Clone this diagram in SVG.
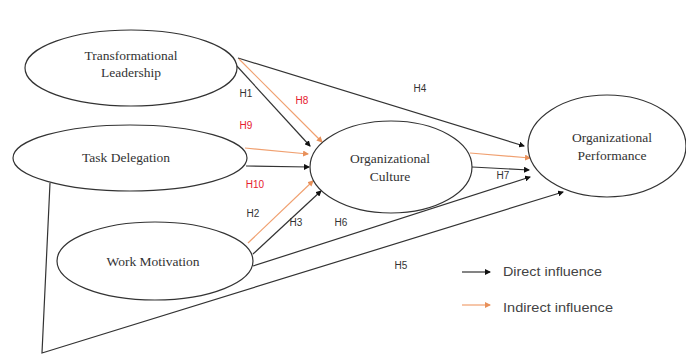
<svg xmlns="http://www.w3.org/2000/svg" width="686" height="355" viewBox="0 0 686 355">
<defs>
<marker id="ab" markerWidth="6" markerHeight="6" refX="5" refY="3" orient="auto" markerUnits="userSpaceOnUse"><path d="M0,0 L6,3 L0,6 Z" fill="#111"/></marker>
<marker id="ao" markerWidth="6" markerHeight="6" refX="5" refY="3" orient="auto" markerUnits="userSpaceOnUse"><path d="M0,0 L6,3 L0,6 Z" fill="#e8905a"/></marker>
</defs>
<style>
.node ellipse{fill:#fff;stroke:#333;stroke-width:1.2}
.nt{font-family:"Liberation Serif",serif;font-size:13.5px;fill:#333;text-anchor:middle}
.d{stroke:#333;stroke-width:1.2;fill:none}
.da{stroke:#333;stroke-width:1.2;fill:none;marker-end:url(#ab)}
.ia{stroke:#f0a070;stroke-width:1.2;fill:none;marker-end:url(#ao)}
.lb{font-family:"Liberation Sans",sans-serif;font-size:10px;fill:#333;text-anchor:middle}
.lr{font-family:"Liberation Sans",sans-serif;font-size:10px;fill:#e5202e;text-anchor:middle}
.lg{font-family:"Liberation Sans",sans-serif;font-size:12px;fill:#444}
</style>
<rect width="686" height="355" fill="#fff"/>
<g id="connectors">
<line class="da" x1="238" y1="58" x2="524" y2="146"/>
<line class="da" x1="235" y1="64" x2="310" y2="146"/>
<line class="ia" x1="239" y1="59" x2="322" y2="142"/>
<line class="ia" x1="245" y1="148" x2="308" y2="154"/>
<line class="da" x1="246" y1="166" x2="309" y2="167"/>
<line class="ia" x1="248" y1="243" x2="313" y2="181"/>
<line class="da" x1="253" y1="254" x2="321" y2="191"/>
<line class="da" x1="253" y1="266" x2="530" y2="177"/>
<polyline class="da" points="50,183 42,353 563,192"/>
<line class="ia" x1="470" y1="153" x2="530" y2="158"/>
<line class="da" x1="472" y1="167" x2="529" y2="170"/>
<text class="lb" x="246" y="97">H1</text>
<text class="lr" x="302" y="104">H8</text>
<text class="lr" x="246" y="129">H9</text>
<text class="lb" x="420" y="92">H4</text>
<text class="lr" x="255" y="188">H10</text>
<text class="lb" x="253" y="217">H2</text>
<text class="lb" x="296" y="226">H3</text>
<text class="lb" x="341" y="226">H6</text>
<text class="lb" x="503" y="179">H7</text>
<text class="lb" x="401" y="269">H5</text>
</g>
<g id="tl" class="node"><ellipse cx="131" cy="68" rx="106" ry="38"/><text class="nt" x="131" y="60">Transformational</text><text class="nt" x="131" y="77">Leadership</text></g>
<g id="td" class="node"><ellipse cx="130" cy="158" rx="117" ry="33"/><text class="nt" x="126" y="162">Task Delegation</text></g>
<g id="wm" class="node"><ellipse cx="155" cy="261" rx="98" ry="39"/><text class="nt" x="153" y="266">Work Motivation</text></g>
<g id="oc" class="node"><ellipse cx="391" cy="167" rx="81" ry="46"/><text class="nt" x="390" y="163">Organizational</text><text class="nt" x="390" y="181">Culture</text></g>
<g id="op" class="node"><ellipse cx="607" cy="146" rx="79" ry="51"/><text class="nt" x="612" y="142">Organizational</text><text class="nt" x="612" y="160">Performance</text></g>
<g id="legend">
<line class="da" x1="462" y1="272" x2="490" y2="272"/>
<text class="lg" x="503" y="276" textLength="99" lengthAdjust="spacingAndGlyphs">Direct influence</text>
<line class="ia" x1="462" y1="305" x2="490" y2="305"/>
<text class="lg" x="503" y="312" textLength="110" lengthAdjust="spacingAndGlyphs">Indirect influence</text>
</g>
</svg>
